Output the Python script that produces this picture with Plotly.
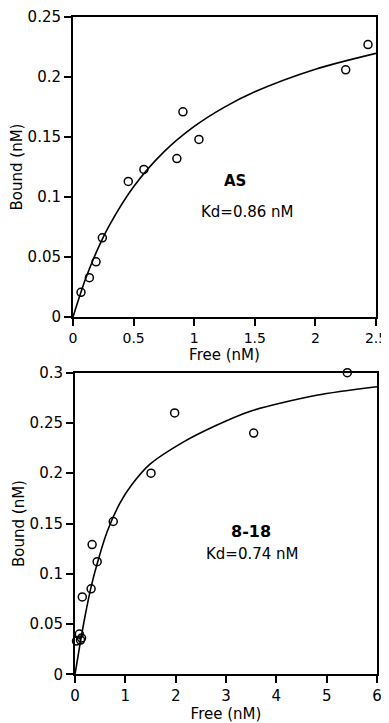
import plotly.graph_objects as go

# ---- Panel A: AS ----
as_free = [0.066, 0.135, 0.19, 0.242, 0.456, 0.585, 0.857, 0.907, 1.039, 2.25, 2.434]
as_bound = [0.0206, 0.0328, 0.046, 0.066, 0.113, 0.123, 0.132, 0.171, 0.148, 0.206, 0.227]
as_fit_free = [0, 0.1, 0.2, 0.3, 0.5, 0.75, 1.0, 1.25, 1.5, 2.0, 2.5]
as_fit_bound = [0, 0.0308, 0.0557, 0.0764, 0.1086, 0.1376, 0.1588, 0.1749, 0.1877, 0.2065, 0.2197]
as_xticks = [0, 0.5, 1, 1.5, 2, 2.5]
as_xtext = ["0", "0.5", "1", "1.5", "2", "2.5"]
as_yticks = [0, 0.05, 0.1, 0.15, 0.2, 0.25]
as_ytext = ["0", "0.05", "0.1", "0.15", "0.2", "0.25"]

# ---- Panel B: 8-18 ----
b_free = [0.03, 0.086, 0.11, 0.13, 0.145, 0.32, 0.34, 0.44, 0.76, 1.51, 1.98, 3.55, 5.41]
b_bound = [0.033, 0.040, 0.034, 0.036, 0.077, 0.085, 0.129, 0.112, 0.152, 0.200, 0.260, 0.240, 0.300]
b_fit_free = [0, 0.1, 0.2, 0.32, 0.44, 0.64, 0.89, 1.12, 1.49, 2.15, 2.8, 3.47, 4.8, 6.0]
b_fit_bound = [0, 0.030, 0.058, 0.087, 0.110, 0.142, 0.170, 0.188, 0.209, 0.231, 0.2475, 0.2615, 0.2775, 0.286]
b_xticks = [0, 1, 2, 3, 4, 5, 6]
b_xtext = ["0", "1", "2", "3", "4", "5", "6"]
b_yticks = [0, 0.05, 0.1, 0.15, 0.2, 0.25, 0.3]
b_ytext = ["0", "0.05", "0.1", "0.15", "0.2", "0.25", "0.3"]

FONT = "DejaVu Sans"
OFF = 8  # page body margin
W, H = 389 - OFF, 723 - OFF


def px(x):
    return (x - OFF) / W


def py(y):
    return 1 - (y - OFF) / H


fig = go.Figure()

marker = dict(symbol="circle-open", size=8, color="black", line=dict(width=1.5, color="black"))
curve = dict(color="black", width=1.6, shape="spline", smoothing=0.8)

fig.add_trace(go.Scatter(x=as_fit_free, y=as_fit_bound, mode="lines", line=curve,
                         xaxis="x", yaxis="y", showlegend=False, cliponaxis=False))
fig.add_trace(go.Scatter(x=as_free, y=as_bound, mode="markers", marker=marker,
                         xaxis="x", yaxis="y", showlegend=False, cliponaxis=False))
fig.add_trace(go.Scatter(x=b_fit_free, y=b_fit_bound, mode="lines", line=curve,
                         xaxis="x2", yaxis="y2", showlegend=False, cliponaxis=False))
fig.add_trace(go.Scatter(x=b_free, y=b_bound, mode="markers", marker=marker,
                         xaxis="x2", yaxis="y2", showlegend=False, cliponaxis=False))

axis_common = dict(showgrid=False, zeroline=False, showline=True, linecolor="black", linewidth=2,
                   mirror=True, ticks="outside", ticklen=7, tickwidth=1.5, tickcolor="black",
                   automargin=False,
                   tickfont=dict(family=FONT, size=15, color="black"))

top_x = [px(73), px(376)]
top_y = [py(317), py(17)]
bot_x = [px(75), px(377)]
bot_y = [py(674.3), py(372.7)]

fig.update_layout(
    width=W, height=H,
    margin=dict(l=0, r=0, t=0, b=0),
    paper_bgcolor="white", plot_bgcolor="white",
    font=dict(family=FONT, size=15, color="black"),
    xaxis=dict(axis_common, domain=top_x, range=[0, 2.5], tickvals=as_xticks, ticktext=as_xtext,
               tickfont=dict(family=FONT, size=14, color="black"),
               anchor="y", title=dict(text="Free (nM)", font=dict(family=FONT, size=15), standoff=2)),
    yaxis=dict(axis_common, domain=top_y, range=[0, 0.25], tickvals=as_yticks, ticktext=as_ytext,
               anchor="x", title=dict(text="Bound (nM)", font=dict(family=FONT, size=15), standoff=1)),
    xaxis2=dict(axis_common, domain=bot_x, range=[0, 6], tickvals=b_xticks, ticktext=b_xtext,
                anchor="y2", title=dict(text="Free (nM)", font=dict(family=FONT, size=15), standoff=2)),
    yaxis2=dict(axis_common, domain=bot_y, range=[0, 0.3], tickvals=b_yticks, ticktext=b_ytext,
                anchor="x2", title=dict(text="Bound (nM)", font=dict(family=FONT, size=15), standoff=1)),
    annotations=[
        dict(text="<b>AS</b>", x=px(235), y=py(181), xref="paper", yref="paper",
             showarrow=False, font=dict(family=FONT, size=15), xanchor="center", yanchor="middle"),
        dict(text="Kd=0.86 nM", x=px(247.5), y=py(211.7), xref="paper", yref="paper",
             showarrow=False, font=dict(family=FONT, size=15), xanchor="center", yanchor="middle"),
        dict(text="<b>8-18</b>", x=px(250.5), y=py(531), xref="paper", yref="paper",
             showarrow=False, font=dict(family=FONT, size=16), xanchor="center", yanchor="middle"),
        dict(text="Kd=0.74 nM", x=px(252), y=py(554), xref="paper", yref="paper",
             showarrow=False, font=dict(family=FONT, size=15), xanchor="center", yanchor="middle"),
    ],
)

fig.write_html("out.html")
